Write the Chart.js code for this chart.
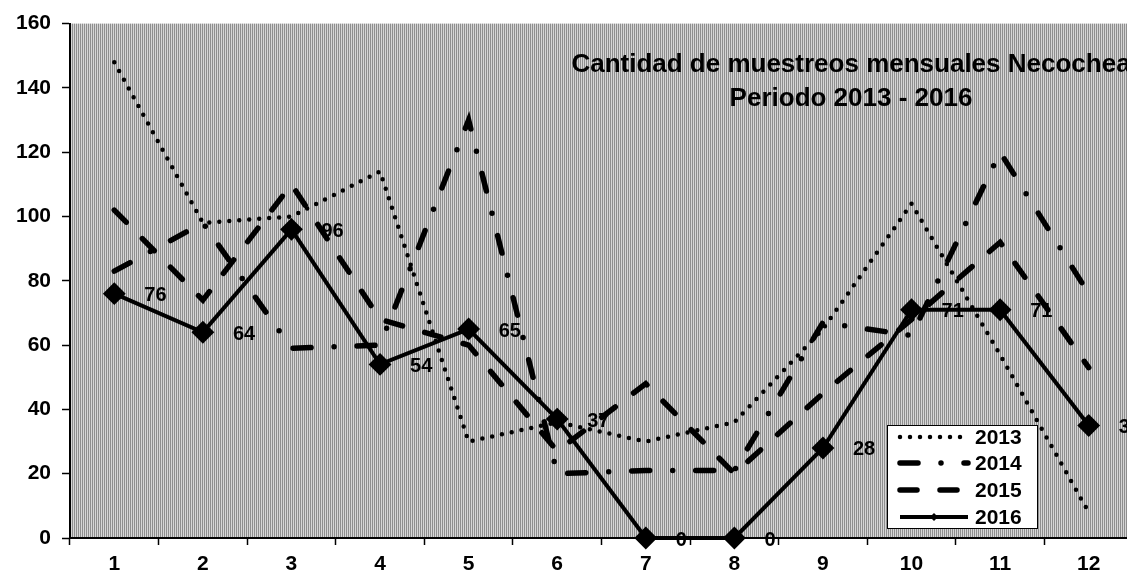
<!DOCTYPE html>
<html lang="es">
<head>
<meta charset="UTF-8">
<title>Cantidad de muestreos mensuales Necochea</title>
<script src="https://cdn.jsdelivr.net/npm/chart.js@4"></script>
<style>
  html, body { margin: 0; padding: 0; background: #fff; overflow: hidden; }
  #wrap { position: absolute; left: 0; top: 0; width: 1145px; height: 579px; }
</style>
</head>
<body>
<div id="wrap"><canvas id="chart" width="1145" height="579"></canvas></div>
<script>
// valores (muestreos por mes)
const months = ['1', '2', '3', '4', '5', '6', '7', '8', '9', '10', '11', '12'];
const years = ['2013', '2014', '2015', '2016'];
const v2013 = [148, 98, 100, 114, 30, 36, 30, 36, 65, 104, 57, 8];
const v2014 = [83, 98, 59, 60, 130, 20, 21, 21, 67, 63, 120, 76];
const v2015 = [102, 74, 110, 68, 60, 27, 48, 20, 45, 68, 92, 53];
const v2016 = [76, 64, 96, 54, 65, 37, 0, 0, 28, 71, 71, 35];
const titleLines = ['Cantidad de muestreos mensuales Necochea', 'Periodo 2013 - 2016'];

const FONT = "Arial, 'Liberation Sans', sans-serif";

// fondo gris rayado del area de trazado
function makeStripes(ctx) {
    const c = document.createElement('canvas');
    c.width = 2; c.height = 1;
    const g = c.getContext('2d');
    g.fillStyle = '#8e8e8e'; g.fillRect(0, 0, 1, 1);
    g.fillStyle = '#d6d6d6'; g.fillRect(1, 0, 1, 1);
    return ctx.createPattern(c, 'repeat');
}

const plotBg = {
    id: 'plotBg',
    beforeDraw(chart) {
        const { ctx, chartArea: a } = chart;
        ctx.save();
        ctx.fillStyle = makeStripes(ctx);
        ctx.fillRect(a.left, a.top, a.right - a.left, a.bottom - a.top);
        ctx.restore();
    }
};

// etiquetas de valor de la serie 2016
const pointLabels = {
    id: 'pointLabels',
    afterDatasetsDraw(chart) {
        const ctx = chart.ctx;
        const meta = chart.getDatasetMeta(3);
        ctx.save();
        ctx.font = 'bold 20px ' + FONT;
        ctx.fillStyle = '#000';
        ctx.textAlign = 'left';
        ctx.textBaseline = 'middle';
        meta.data.forEach((pt, i) => {
            ctx.fillText(String(v2016[i]), pt.x + 30, pt.y + 2);
        });
        ctx.restore();
    }
};

// titulo dentro del area y leyenda en recuadro
const overlay = {
    id: 'overlay',
    afterDraw(chart) {
        const ctx = chart.ctx;
        ctx.save();
        ctx.fillStyle = '#000';
        ctx.font = 'bold 26px ' + FONT;
        ctx.textAlign = 'center';
        ctx.textBaseline = 'alphabetic';
        ctx.fillText(titleLines[0], 851, 72);
        ctx.fillText(titleLines[1], 851, 106);

        // leyenda
        const bx = 887, by = 425, bw = 150, bh = 103;
        ctx.fillStyle = '#fff';
        ctx.fillRect(bx, by, bw, bh);
        ctx.strokeStyle = '#000';
        ctx.lineWidth = 1;
        ctx.strokeRect(bx + 0.5, by + 0.5, bw, bh);

        const rows = [437, 463, 490, 517];
        chart.data.datasets.forEach((ds, i) => {
            const y = rows[i];
            ctx.save();
            ctx.strokeStyle = '#000';
            ctx.lineWidth = ds.borderWidth;
            ctx.lineCap = ds.borderCapStyle || 'butt';
            ctx.setLineDash(ds.borderDash || []);
            ctx.beginPath();
            ctx.moveTo(900, y);
            ctx.lineTo(968, y);
            ctx.stroke();
            if (i === 3) {
                ctx.setLineDash([]);
                ctx.beginPath();
                ctx.moveTo(934 - 4, y); ctx.lineTo(934, y - 4);
                ctx.lineTo(934 + 4, y); ctx.lineTo(934, y + 4);
                ctx.closePath();
                ctx.fillStyle = '#000';
                ctx.fill();
            }
            ctx.restore();
            ctx.fillStyle = '#000';
            ctx.font = 'bold 21px ' + FONT;
            ctx.textAlign = 'left';
            ctx.textBaseline = 'middle';
            ctx.fillText(ds.label, 975, y + 1);
        });
        ctx.restore();
    }
};

const ctx = document.getElementById('chart').getContext('2d');
new Chart(ctx, {
    type: 'line',
    data: {
        labels: months,
        datasets: [
            {
                label: years[0], data: v2013, borderColor: '#000', borderWidth: 4.5,
                borderDash: [0, 10], borderCapStyle: 'round', pointRadius: 0,
                tension: 0, clip: false, order: 3
            },
            {
                label: years[1], data: v2014, borderColor: '#000', borderWidth: 5.5,
                borderDash: [18, 23, 0, 23], borderCapStyle: 'round', pointRadius: 0,
                tension: 0, clip: false, order: 2
            },
            {
                label: years[2], data: v2015, borderColor: '#000', borderWidth: 5.5,
                borderDash: [17, 23], borderCapStyle: 'round', pointRadius: 0,
                tension: 0, clip: false, order: 1
            },
            {
                label: years[3], data: v2016, borderColor: '#000', borderWidth: 4,
                pointStyle: 'rectRot', pointRadius: 10, pointBorderWidth: 2,
                pointBackgroundColor: '#000', pointBorderColor: '#000',
                tension: 0, clip: false, order: 0
            }
        ]
    },
    options: {
        responsive: false,
        animation: false,
        devicePixelRatio: 1,
        events: [],
        layout: { padding: { top: 22, right: 6, left: 0, bottom: 0 } },
        plugins: {
            legend: { display: false },
            tooltip: { enabled: false },
            title: { display: false }
        },
        scales: {
            x: {
                offset: true,
                grid: { offset: true, drawOnChartArea: false, tickLength: 7, tickColor: '#000', tickWidth: 1.5 },
                border: { display: true, color: '#000', width: 2 },
                ticks: {
                    color: '#000', padding: 7, maxRotation: 0, autoSkip: false,
                    font: { family: FONT, size: 21, weight: 'bold' }
                },
                afterFit(s) { s.height = 41; }
            },
            y: {
                min: 0, max: 160,
                grid: { drawOnChartArea: false, tickLength: 8, tickColor: '#000', tickWidth: 1.5 },
                border: { display: true, color: '#000', width: 2 },
                ticks: {
                    stepSize: 20, color: '#000', padding: 11,
                    font: { family: FONT, size: 21, weight: 'bold' }
                },
                afterFit(s) { s.width = 70; }
            }
        }
    },
    plugins: [plotBg, pointLabels, overlay]
});
</script>
</body>
</html>
